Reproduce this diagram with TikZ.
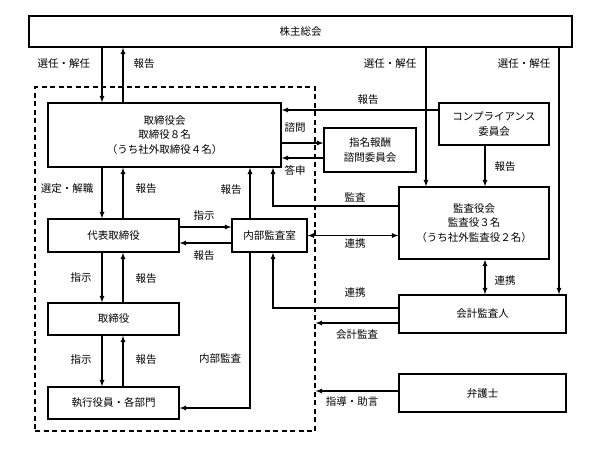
\documentclass[tikz,border=0pt]{standalone}
\usepackage{fontspec}
\setmainfont{Noto Sans CJK JP}
\usetikzlibrary{arrows}

\begin{document}
\begin{tikzpicture}[x=1pt, y=-1pt, >=latex, font=\fontsize{10.5}{14.5}\selectfont,
  box/.style={draw, line width=1.3pt, align=center, inner sep=0pt},
  link/.style={->, line width=1.2pt},
  both/.style={<->, line width=1.2pt}]
\useasboundingbox (0,0) rectangle (600,456);
% boxes
\node[box, minimum width=543pt, minimum height=31pt] (soukai) at (300.5,31.5) {株主総会};
\node[box, minimum width=233pt, minimum height=64pt] (torishimari) at (164.5,135) {取締役会\\取締役８名\\（うち社外取締役４名）};
\node[box, minimum width=92pt, minimum height=44pt] (shimei) at (370,150) {指名報酬\\諮問委員会};
\node[box, minimum width=110pt, minimum height=42pt] (compliance) at (494,124) {コンプライアンス\\委員会};
\node[box, minimum width=131pt, minimum height=33pt] (daihyo) at (113.5,235.5) {代表取締役};
\node[box, minimum width=75pt, minimum height=33pt] (naibu) at (269.5,235.5) {内部監査室};
\node[box, minimum width=150pt, minimum height=72pt] (kansayaku) at (474,223) {監査役会\\監査役３名\\（うち社外監査役２名）};
\node[box, minimum width=167pt, minimum height=38pt] (kaikei) at (482.5,314) {会計監査人};
\node[box, minimum width=131pt, minimum height=32pt] (torishimariyaku) at (113.5,319) {取締役};
\node[box, minimum width=131pt, minimum height=32pt] (shikko) at (113.5,403) {執行役員・各部門};
\node[box, minimum width=167pt, minimum height=38pt] (bengoshi) at (482.5,393) {弁護士};
\node[draw, line width=1.3pt, dash pattern=on 5pt off 3.5pt, minimum width=280pt, minimum height=344pt] (frame) at (175,259) {};

% x levels
\coordinate (dn) at (102,0);
\coordinate (up) at (123,0);
\coordinate (audit) at (426,0);
\coordinate (acct) at (559,0);
\coordinate (mid) at (485,0);

% connectors
\draw[link] (soukai.south -| dn) -- (torishimari.north -| dn);
\draw[link] (torishimari.north -| up) -- (soukai.south -| up);
\draw[link] (soukai.south -| audit) -- (kansayaku.north -| audit);
\draw[link] (soukai.south -| acct) -- (kaikei.north -| acct);
\draw[link] ([yshift=14pt]compliance.west) -- ([yshift=14pt]compliance.west -| torishimari.east);
\draw[link] ([yshift=-8pt]torishimari.east) -- ([yshift=-8pt]torishimari.east -| shimei.west);
\draw[link] ([yshift=-8pt]shimei.west) -- ([yshift=-8pt]shimei.west -| torishimari.east);
\draw[link] (compliance.south -| mid) -- (kansayaku.north -| mid);
\draw[link] ([yshift=17pt]kansayaku.west) -| ([xshift=108.5pt]torishimari.south);
\draw[both] (naibu.east) -- (naibu.east -| kansayaku.west);
\draw[both] (kansayaku.south -| mid) -- (kaikei.north -| mid);
\draw[link] ([yshift=6pt]kaikei.west) -| ([xshift=3.5pt]naibu.south);
\draw[link] ([yshift=-9pt]kaikei.west) -- ([yshift=-9pt]kaikei.west -| frame.east);
\draw[link] ([yshift=2pt]bengoshi.west) -- ([yshift=2pt]bengoshi.west -| frame.east);
\draw[link] (torishimari.south -| dn) -- (daihyo.north -| dn);
\draw[link] (daihyo.north -| up) -- (torishimari.south -| up);
\draw[link] ([xshift=-19.5pt]naibu.north) -- ([xshift=-19.5pt]naibu.north |- torishimari.south);
\draw[link] ([yshift=8.5pt]daihyo.east) -- ([yshift=8.5pt]daihyo.east -| naibu.west);
\draw[link] ([yshift=-7.5pt]naibu.west) -- ([yshift=-7.5pt]naibu.west -| daihyo.east);
\draw[link] (daihyo.south -| dn) -- (torishimariyaku.north -| dn);
\draw[link] (torishimariyaku.north -| up) -- (daihyo.south -| up);
\draw[link] (torishimariyaku.south -| dn) -- (shikko.north -| dn);
\draw[link] (shikko.north -| up) -- (torishimariyaku.south -| up);
\draw[link] ([xshift=-19.5pt]naibu.south) |- ([yshift=-5pt]shikko.east);

% labels
\node (senninA) at (64,64) {選任・解任};
\node (houkokuA) at (144,64) {報告};
\node (senninB) at (390,64) {選任・解任};
\node (senninC) at (524,64) {選任・解任};
\node (houkokuB) at (368,100) {報告};
\node (shimon) at (295,128) {諮問};
\node (toushin) at (295,170) {答申};
\node (houkokuC) at (505,167) {報告};
\node (kansa) at (355,197) {監査};
\node (renkeiA) at (355,244) {連携};
\node (renkeiB) at (505,281) {連携};
\node (renkeiC) at (355,293) {連携};
\node (kaikeikansa) at (357,335) {会計監査};
\node (jogen) at (352,402) {指導・助言};
\node (sentei) at (67,189) {選定・解職};
\node (houkokuD) at (146,189) {報告};
\node (houkokuE) at (231,190) {報告};
\node (shijiA) at (204,216) {指示};
\node (houkokuF) at (204,256) {報告};
\node (shijiB) at (81,278) {指示};
\node (houkokuG) at (146,279) {報告};
\node (shijiC) at (81,360) {指示};
\node (houkokuH) at (146,360) {報告};
\node (naibukansa) at (220,359) {内部監査};
\end{tikzpicture}
\end{document}
